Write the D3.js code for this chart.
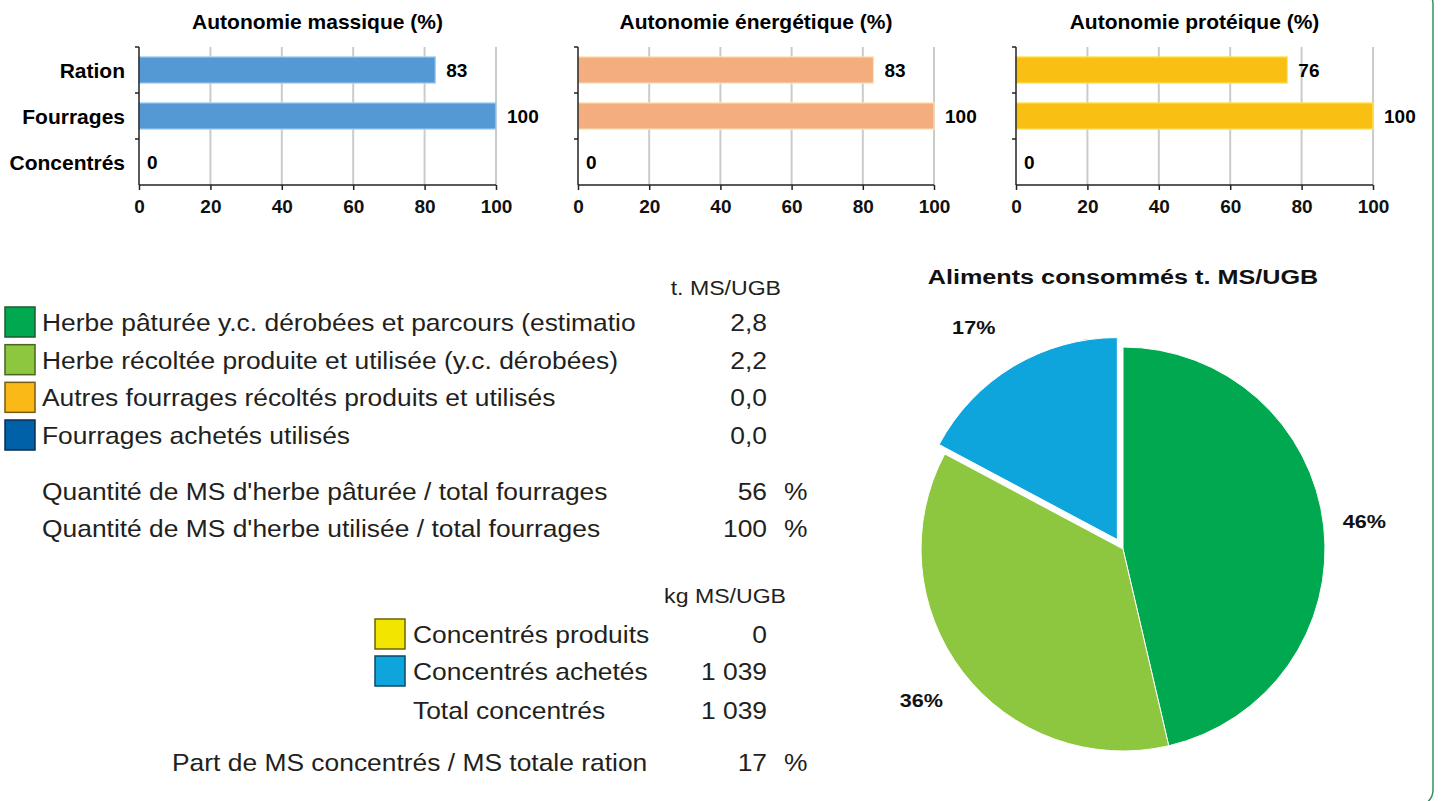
<!DOCTYPE html>
<html>
<head>
<meta charset="utf-8">
<script src="https://cdn.jsdelivr.net/npm/d3@7"></script>
<style>
  html, body { margin: 0; padding: 0; background: #fff; }
  svg { display: block; font-family: "Liberation Sans", Arial, sans-serif; }
  .bold { font-weight: bold; }
</style>
</head>
<body>
<div id="chart"></div>
<script>
// bar charts: autonomie
const barCategories = ['Ration', 'Fourrages', 'Concentrés'];
const barTitles = ['Autonomie massique (%)', 'Autonomie énergétique (%)', 'Autonomie protéique (%)'];
const massique = [83, 100, 0];
const energetique = [83, 100, 0];
const proteique = [76, 100, 0];
const xTicks = [0, 20, 40, 60, 80, 100];

// fourrages table (t. MS/UGB)
const fourrageLabels = [
    'Herbe pâturée y.c. dérobées et parcours (estimatio',
    'Herbe récoltée produite et utilisée (y.c. dérobées)',
    'Autres fourrages récoltés produits et utilisés',
    'Fourrages achetés utilisés'
];
const fourrageValues = [2.8, 2.2, 0.0, 0.0];

const ratioLabels = [
    "Quantité de MS d'herbe pâturée / total fourrages",
    "Quantité de MS d'herbe utilisée / total fourrages"
];
const ratioValues = [56, 100];

// concentres table (kg MS/UGB)
const concentreLabels = ['Concentrés produits', 'Concentrés achetés', 'Total concentrés'];
const concentreValues = [0, 1039, 1039];
const partLabel = 'Part de MS concentrés / MS totale ration';
const partValue = 17;

// pie
const pieTitle = 'Aliments consommés t. MS/UGB';
const pieLabels = ['Herbe pâturée', 'Herbe récoltée', 'Concentrés achetés'];
const pieValues = [2.8, 2.2, 1.039];

const W = 1441, H = 801;
const fr = d3.formatLocale({decimal: ',', thousands: '\u00a0', grouping: [3], currency: ['', '']});
const fmt1 = fr.format('.1f');
const fmtInt = fr.format(',d');

const svg = d3.select('#chart').append('svg')
    .attr('width', W)
    .attr('height', H);

// text drawn a bit wider than the font, like the original export
function stext(g, x, y, str, size, anchor, sx) {
    return g.append('text')
        .attr('transform', 'translate(' + x + ',' + y + ') scale(' + sx + ',1)')
        .attr('text-anchor', anchor || 'start')
        .style('font-size', size)
        .text(str);
}

// frame (green rounded border)
svg.append('rect')
    .attr('x', -8).attr('y', -12)
    .attr('width', 1441).attr('height', 818)
    .attr('rx', 16)
    .attr('fill', 'none')
    .attr('stroke', '#2f9466')
    .attr('stroke-width', 1.5);

// ---------- bar charts ----------
const barSpecs = [
    {x0: 139, x1: 496, values: massique, fill: '#5499d4', stroke: '#a8d2f2', showCats: true},
    {x0: 578, x1: 934, values: energetique, fill: '#f3ad7e', stroke: '#fde3b8', showCats: false},
    {x0: 1016, x1: 1373, values: proteique, fill: '#f9c013', stroke: '#fde65a', showCats: false}
];
const plotTop = 47, plotBottom = 185;

barSpecs.forEach((spec, i) => {
    const xScale = d3.scaleLinear().domain([0, 100]).range([spec.x0, spec.x1]);
    const yScale = d3.scaleBand().domain(barCategories)
        .range([plotTop, plotBottom])
        .paddingInner(0.43)
        .paddingOuter(0.215);
    const step = yScale.step();

    const g = svg.append('g').attr('class', 'bar-chart');

    // title
    g.append('text')
        .attr('class', 'bold')
        .attr('x', (spec.x0 + spec.x1) / 2)
        .attr('y', 29)
        .attr('text-anchor', 'middle')
        .style('font-size', '21px')
        .text(barTitles[i]);

    // grid
    g.selectAll('.grid').data(xTicks.slice(1)).enter()
        .append('line')
        .attr('class', 'grid')
        .attr('x1', d => xScale(d)).attr('x2', d => xScale(d))
        .attr('y1', plotTop).attr('y2', plotBottom)
        .attr('stroke', '#cbcbcb')
        .attr('stroke-width', 2);

    // bars
    g.selectAll('.bar').data(spec.values).enter()
        .append('rect')
        .attr('class', 'bar')
        .attr('x', xScale(0))
        .attr('y', (d, j) => yScale(barCategories[j]))
        .attr('width', d => xScale(d) - xScale(0))
        .attr('height', yScale.bandwidth())
        .attr('fill', spec.fill)
        .attr('stroke', d => d > 0 ? spec.stroke : 'none')
        .attr('stroke-width', 1.2);

    // value labels
    g.selectAll('.val').data(spec.values).enter()
        .append('text')
        .attr('class', 'bold')
        .attr('x', d => xScale(d) + (d > 0 ? 11 : 8))
        .attr('y', (d, j) => yScale(barCategories[j]) + yScale.bandwidth() / 2)
        .attr('dy', '0.36em')
        .style('font-size', '19px')
        .text(d => d);

    // y axis with ticks at band edges
    const yEdges = d3.range(barCategories.length).map(j => plotTop + j * step);
    g.append('line')
        .attr('x1', xScale(0)).attr('x2', xScale(0))
        .attr('y1', plotTop).attr('y2', plotBottom)
        .attr('stroke', '#222').attr('stroke-width', 1.5);
    g.selectAll('.ytick').data(yEdges).enter()
        .append('line')
        .attr('x1', xScale(0) - 4).attr('x2', xScale(0))
        .attr('y1', d => d).attr('y2', d => d)
        .attr('stroke', '#222').attr('stroke-width', 1.5);

    if (spec.showCats) {
        g.selectAll('.cat').data(barCategories).enter()
            .append('text')
            .attr('class', 'bold')
            .attr('x', xScale(0) - 14)
            .attr('y', d => yScale(d) + yScale.bandwidth() / 2)
            .attr('dy', '0.36em')
            .attr('text-anchor', 'end')
            .style('font-size', '21px')
            .text(d => d);
    }

    // x axis
    const xAxis = d3.axisBottom(xScale).tickValues(xTicks).tickSize(5).tickPadding(10);
    const ax = g.append('g')
        .attr('transform', 'translate(0,' + plotBottom + ')')
        .call(xAxis);
    ax.select('.domain').attr('stroke', '#222').attr('stroke-width', 1.5)
        .attr('d', 'M' + xScale(0) + ',0H' + xScale(100));
    ax.selectAll('.tick line').attr('stroke', '#222').attr('stroke-width', 1.5);
    ax.selectAll('.tick text')
        .attr('class', 'bold')
        .attr('fill', '#111')
        .style('font-size', '19px')
        .style('font-family', '"Liberation Sans", Arial, sans-serif');
});

// ---------- fourrages table ----------
const textColor = '#231f20';
const tableFont = '24px';
const sx = 1.1;
const valRight = 767;
const fourrageColors = ['#00a84f', '#8dc63f', '#fbb917', '#0060a8'];
const fourrageStrokes = ['#1d5a30', '#4b6322', '#7a5a10', '#0b2c4e'];
const rowY = d3.scaleLinear().domain([0, 3]).range([322, 435]);

const tbl = svg.append('g').attr('class', 'table').attr('fill', textColor);

stext(tbl, 781, 295, 't. MS/UGB', '21px', 'end', sx);

tbl.selectAll('.fsq').data(fourrageValues).enter()
    .append('rect')
    .attr('x', 5).attr('y', (d, i) => rowY(i) - 15)
    .attr('width', 30).attr('height', 30)
    .attr('fill', (d, i) => fourrageColors[i])
    .attr('stroke', (d, i) => fourrageStrokes[i])
    .attr('stroke-width', 1.5);

fourrageLabels.forEach((lab, i) => {
    stext(tbl, 42, rowY(i) + 9, lab, tableFont, 'start', sx);
    stext(tbl, valRight, rowY(i) + 9, fmt1(fourrageValues[i]), tableFont, 'end', sx);
});

const ratioY = [491, 528];
ratioLabels.forEach((lab, i) => {
    stext(tbl, 42, ratioY[i] + 9, lab, tableFont, 'start', sx);
    stext(tbl, valRight, ratioY[i] + 9, ratioValues[i], tableFont, 'end', sx);
    stext(tbl, 784, ratioY[i] + 9, '%', tableFont, 'start', sx);
});

// ---------- concentres table ----------
stext(tbl, 786, 603, 'kg MS/UGB', '21px', 'end', sx);

const concY = [634, 671, 710];
const concColors = ['#f2e600', '#0ea5dc'];
const concStrokes = ['#6a6400', '#0b4a66'];
concColors.forEach((c, i) => {
    tbl.append('rect')
        .attr('x', 375).attr('y', concY[i] - 15)
        .attr('width', 30).attr('height', 30)
        .attr('fill', c)
        .attr('stroke', concStrokes[i])
        .attr('stroke-width', 1.5);
});
concentreLabels.forEach((lab, i) => {
    stext(tbl, 413, concY[i] + 9, lab, tableFont, 'start', sx);
    stext(tbl, valRight, concY[i] + 9, fmtInt(concentreValues[i]), tableFont, 'end', sx);
});

stext(tbl, 172, 771, partLabel, tableFont, 'start', sx);
stext(tbl, valRight, 771, partValue, tableFont, 'end', sx);
stext(tbl, 784, 771, '%', tableFont, 'start', sx);

// ---------- pie ----------
const pieColors = ['#00a84f', '#8dc63f', '#0ea5dc'];
const cx = 1123, cy = 549, radius = 202;
const explode = [0, 0, 11];
const labelR = 248;
const pieSx = 1.2;

stext(svg, cx, 284, pieTitle, '21px', 'middle', pieSx)
    .attr('class', 'bold')
    .attr('fill', '#111');

const pie = d3.pie().sort(null).value(d => d)(pieValues);
const total = d3.sum(pieValues);
const arc = d3.arc().innerRadius(0).outerRadius(radius);
const pg = svg.append('g').attr('transform', 'translate(' + cx + ',' + cy + ')');

function offset(d, r) {
    const a = (d.startAngle + d.endAngle) / 2;
    return [Math.sin(a) * r, -Math.cos(a) * r];
}

pg.selectAll('.slice').data(pie).enter()
    .append('path')
    .attr('class', 'slice')
    .attr('transform', (d, i) => 'translate(' + offset(d, explode[i]) + ')')
    .attr('d', arc)
    .attr('fill', (d, i) => pieColors[i])
    .attr('stroke', '#fff')
    .attr('stroke-width', 1);

pie.forEach((d, i) => {
    const p = offset(d, labelR + explode[i]);
    stext(pg, p[0] - (i === 2 ? 16 : 5), p[1] + 7, Math.round(d.value / total * 100) + '%', '18px', 'middle', 1.2)
        .attr('class', 'bold')
        .attr('fill', '#111');
});
</script>
</body>
</html>
